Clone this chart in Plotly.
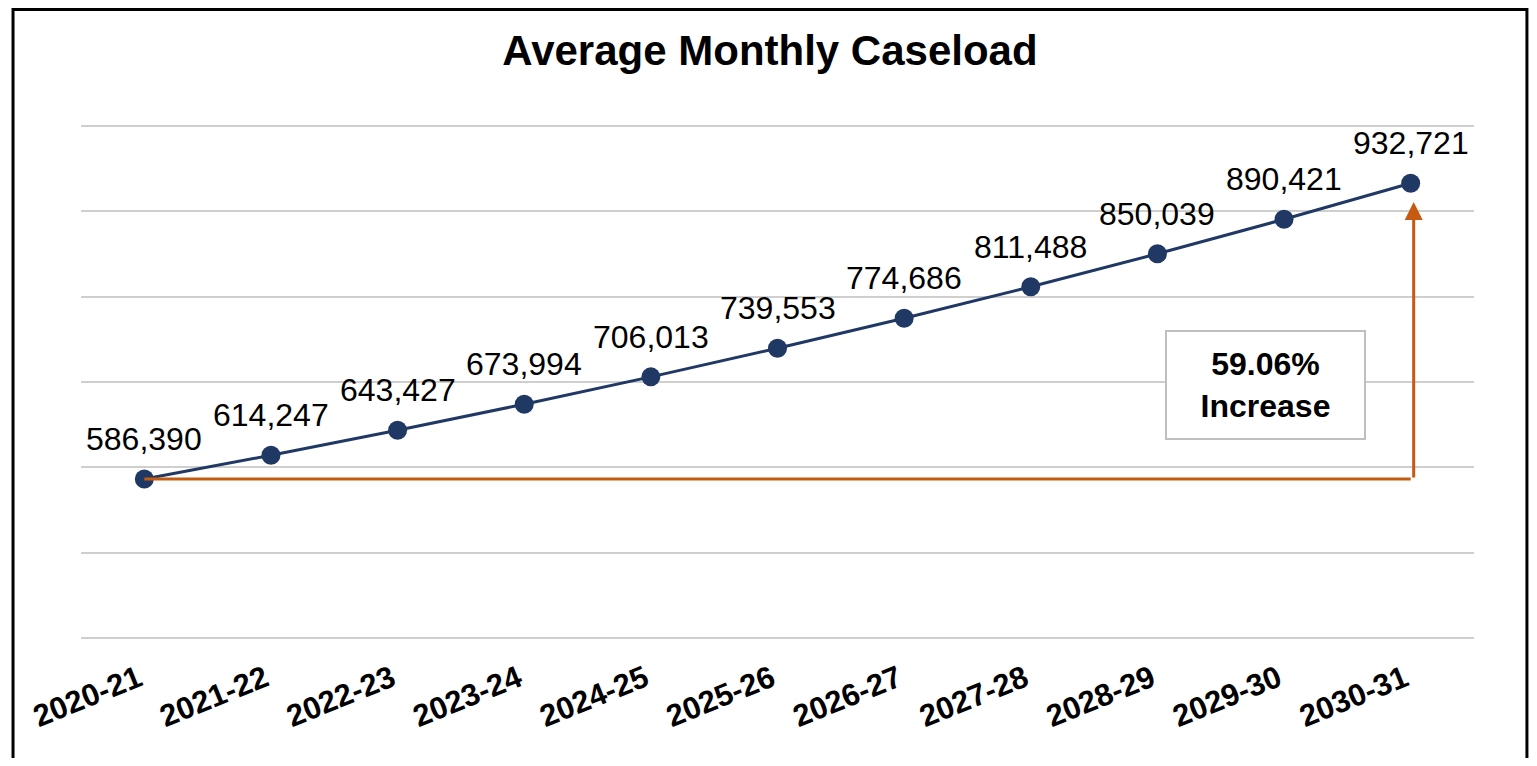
import plotly.graph_objects as go

years = ["2020-21", "2021-22", "2022-23", "2023-24", "2024-25", "2025-26",
         "2026-27", "2027-28", "2028-29", "2029-30", "2030-31"]
caseload = [586390, 614247, 643427, 673994, 706013, 739553,
            774686, 811488, 850039, 890421, 932721]
pct_increase = "59.06%"

navy = "#203864"
orange = "#C55A11"

fig = go.Figure()

fig.add_trace(go.Scatter(x=years, y=caseload, mode="lines+markers",
                         line=dict(color=navy, width=3),
                         marker=dict(color=navy, size=19)))

# orange baseline from the first year across to the last
fig.add_trace(go.Scatter(x=[years[0], years[-1]], y=[caseload[0], caseload[0]],
                         mode="lines", line=dict(color=orange, width=3),
                         hoverinfo="skip"))

for x, y in zip(years, caseload):
    fig.add_annotation(x=x, y=y, text=f"{y:,}", showarrow=False, yshift=40,
                       font=dict(family="Liberation Sans, Arial", size=32, color="#000"))

# vertical arrow up to the last year
fig.add_annotation(x=years[-1], y=caseload[-1] - 22000, ax=years[-1], ay=caseload[0],
                   xref="x", yref="y", axref="x", ayref="y", text="",
                   showarrow=True, arrowhead=2, arrowsize=1.2, arrowwidth=3,
                   arrowcolor=orange, xshift=3)

fig.add_annotation(x=8.85, y=697000, xref="x", yref="y", showarrow=False,
                   text=f"<b>{pct_increase}<br>Increase</b>",
                   font=dict(family="Liberation Sans, Arial", size=32, color="#000"),
                   bordercolor="#BFBFBF", borderwidth=2, borderpad=6,
                   bgcolor="white", width=185, height=94)

# outer frame
fig.add_shape(type="rect", xref="paper", yref="paper",
              x0=-0.0488, x1=1.038, y0=-0.3, y1=1.2219,
              line=dict(color="black", width=3))

fig.update_layout(
    width=1521, height=750,
    margin=dict(l=73, r=55, t=116, b=118),
    paper_bgcolor="white", plot_bgcolor="white",
    showlegend=False,
    title=dict(text="<b>Average Monthly Caseload</b>", x=762 / 1521, xref="container",
               y=1 - 42 / 750, yref="container", xanchor="center", yanchor="middle",
               font=dict(family="Liberation Sans, Arial", size=42, color="#000")),
    font=dict(family="Liberation Sans, Arial", color="#000"),
)
fig.update_xaxes(type="category", categoryorder="array", categoryarray=years,
                 range=[-0.5, 10.5], showgrid=False, showline=False, ticks="",
                 automargin=False, tickangle=-22, ticklabelshift=-6,
                 ticklabelstandoff=14,
                 tickfont=dict(size=31, weight="bold"))
fig.update_yaxes(range=[398000, 1002000], dtick=100000, showticklabels=False,
                 gridcolor="#CFCFCF", gridwidth=2, zeroline=False, showline=False,
                 automargin=False)

fig.write_html("out.html")
